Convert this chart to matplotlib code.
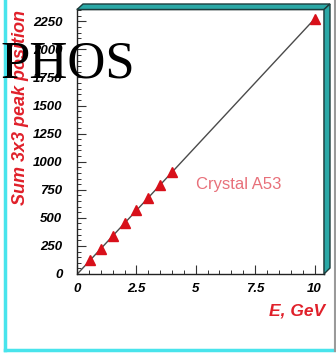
import numpy as np
import matplotlib
matplotlib.use("Agg")
import matplotlib.pyplot as plt
from matplotlib.patches import Polygon
from matplotlib.lines import Line2D
from matplotlib.ticker import MultipleLocator

# Beam energy (GeV) and summed 3x3 cluster peak position
energy = [0.55, 1.0, 1.5, 2.0, 2.5, 3.0, 3.5, 4.0, 10.0]
peak_position = [125, 222, 335, 450, 568, 680, 795, 905, 2270]

x_ticks = [0, 2.5, 5, 7.5, 10]
x_tick_labels = ["0", "2.5", "5", "7.5", "10"]
y_ticks = [0, 250, 500, 750, 1000, 1250, 1500, 1750, 2000, 2250]
y_tick_labels = ["0", "250", "500", "750", "1000", "1250", "1500", "1750", "2000", "2250"]

W, H = 336, 360
fig = plt.figure(figsize=(W / 100, H / 100), dpi=100)
fig.patch.set_facecolor("white")

def fx(px):
    return px / W

def fy(py):
    return 1 - py / H

# axes frame in pixel coordinates
ax_l, ax_r, ax_t, ax_b = 77, 324, 9.5, 274
ax = fig.add_axes([fx(ax_l), fy(ax_b), fx(ax_r - ax_l), (ax_b - ax_t) / H])

# linear fit drawn across the full energy range
slope, intercept = np.polyfit(energy, peak_position, 1)
xf = np.array([0.0, max(energy)])
ax.plot(xf, slope * xf + intercept, color="#4a4a4a", lw=1.0, zorder=2)
ax.plot(energy, peak_position, linestyle="none", marker="^", ms=6.5,
        color="#d8101a", mec="#d8101a", zorder=3)

ax.set_xlim(0, 10.4)
ax.set_ylim(0, 2355)
ax.set_xticks(x_ticks)
ax.set_xticklabels(x_tick_labels)
ax.set_yticks(y_ticks)
ax.set_yticklabels(y_tick_labels)
ax.xaxis.set_minor_locator(MultipleLocator(0.5))
ax.yaxis.set_minor_locator(MultipleLocator(50))

tick_font = dict(family="Liberation Sans", weight="bold", style="italic", size=9.5)
for lab in ax.get_xticklabels() + ax.get_yticklabels():
    lab.set_fontproperties(matplotlib.font_manager.FontProperties(**tick_font))
ax.tick_params(axis="both", which="major", direction="in", length=6.5, width=0.8, color="#333333")
ax.tick_params(axis="both", which="minor", direction="in", length=3.2, width=0.7, color="#333333")
ax.tick_params(axis="y", which="major", pad=10.5)
ax.tick_params(axis="x", which="major", pad=6.5)
for s in ax.spines.values():
    s.set_color("#222222")
    s.set_linewidth(1.0)

# 3D box faces on top and right
d = 6
teal = "#2aa8a6"
edge = "#1c3c3c"
top_face = [(ax_l, ax_t), (ax_l + d, ax_t - d + 0.5), (ax_r + d, ax_t - d + 0.5), (ax_r, ax_t)]
right_face = [(ax_r, ax_t), (ax_r + d, ax_t - d + 0.5), (ax_r + d, ax_b - d), (ax_r, ax_b)]
for face in (top_face, right_face):
    fig.add_artist(Polygon([(fx(a), fy(b)) for a, b in face], closed=True,
                           facecolor=teal, edgecolor=edge, lw=1.0,
                           transform=fig.transFigure))

# outer frame of the pad
cyan = "#48e4ec"
fig.add_artist(Line2D([fx(5), fx(5)], [fy(0), fy(350)], color=cyan, lw=2.5, transform=fig.transFigure))
fig.add_artist(Line2D([fx(5), fx(334.5)], [fy(350), fy(350)], color=cyan, lw=2.5, transform=fig.transFigure))
fig.add_artist(Line2D([fx(334.5), fx(334.5)], [fy(0), fy(351)], color="#9a9a9a", lw=1.5, transform=fig.transFigure))

# axis titles
lab_red = "#e0202a"
fig.text(fx(21), fy(10), "Sum 3x3 peak position", rotation=90, ha="center", va="top",
         color=lab_red, family="Liberation Sans", weight="bold", style="italic", size=13)
fig.text(fx(325), fy(311), "E, GeV", ha="right", va="center",
         color=lab_red, family="Liberation Sans", weight="bold", style="italic", size=12.5)

fig.text(fx(196), fy(185), "Crystal A53", ha="left", va="center",
         color="#e8707a", family="Liberation Sans", size=12)

fig.text(fx(0), fy(78), "PHOS", ha="left", va="baseline",
         color="black", family="Liberation Serif", size=38)

fig.savefig("out.png", dpi=100)
